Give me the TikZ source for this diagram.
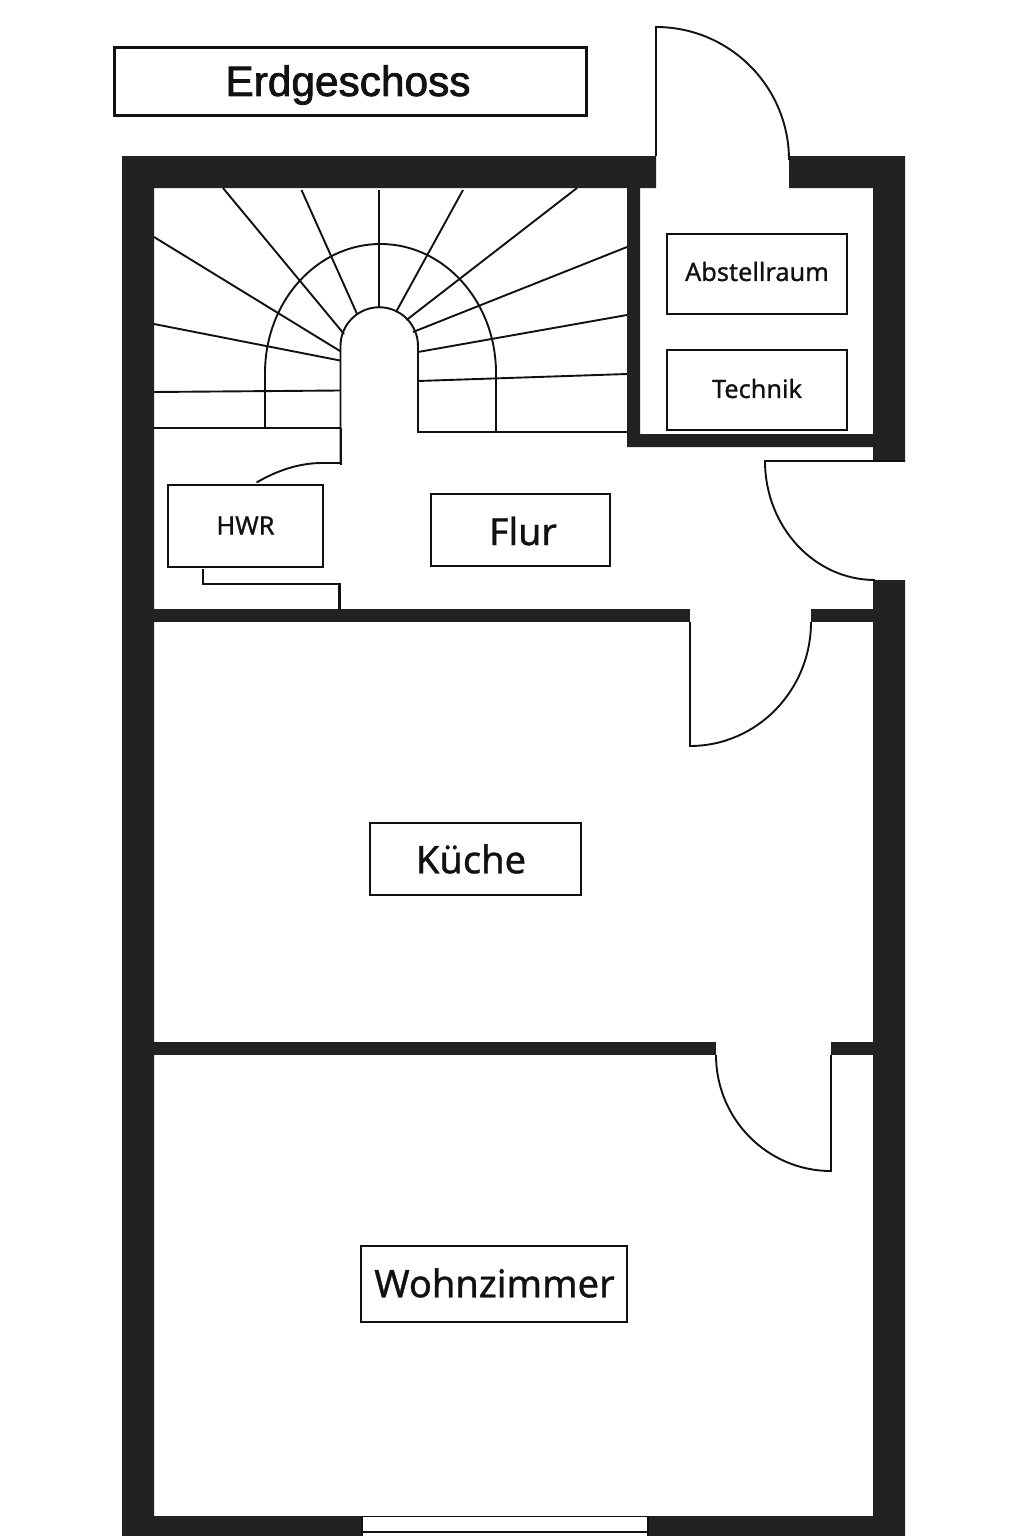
\documentclass[tikz,border=0pt]{standalone}
\usepackage{fontspec}
\setmainfont[RawFeature={embolden=0.9}]{Noto Sans}
\newfontfamily\titlefont[RawFeature={embolden=1.8}]{Liberation Sans}
\definecolor{wallcolor}{HTML}{222222}
\definecolor{inkcolor}{HTML}{111111}
\tikzset{
  wall/.style={fill=wallcolor,draw=none},
  thinline/.style={draw=inkcolor,line width=1.9pt},
  roombox/.style={draw=inkcolor,line width=2pt,inner sep=0pt},
  roomname/.style={text=inkcolor,inner sep=0pt,anchor=center}
}
\begin{document}
\begin{tikzpicture}[x=1pt,y=-1pt]
  \useasboundingbox (0,0) rectangle (1024,1536);
  % walls
  \fill[wall] (122,156) -- (656,156) -- (656,188) -- (154,188) -- (154,1516) -- (362,1516)
    -- (362,1536) -- (122,1536) -- cycle;
  \fill[wall] (648,1516) -- (873,1516) -- (873,580) -- (905,580) -- (905,1536) -- (648,1536) -- cycle;
  \fill[wall] (789,156) -- (905,156) -- (905,461) -- (873,461) -- (873,188) -- (789,188) -- cycle;
  \fill[wall] (627,188) -- (640,188) -- (640,434) -- (873,434) -- (873,447) -- (627,447) -- cycle;
  \fill[wall] (154,609) rectangle (690,622);
  \fill[wall] (811,609) rectangle (873,622);
  \fill[wall] (154,1042) rectangle (716,1055);
  \fill[wall] (831,1042) rectangle (873,1055);
  % window
  \draw[thinline] (362,1536) -- (362,1516.5) -- (648,1516.5) -- (648,1536);
  \draw[thinline] (362,1532) -- (648,1532);
  % doors
  \draw[thinline] (656,156) -- (656,27) arc[start angle=-90,end angle=0,radius=133] -- (789,156);
  \draw[thinline] (905,461) -- (765,461) arc[start angle=180,end angle=90,x radius=110,y radius=119];
  \draw[thinline] (690,622) -- (690,746) arc[start angle=90,end angle=0,x radius=121,y radius=124];
  \draw[thinline] (831,1055) -- (831,1171) arc[start angle=90,end angle=180,x radius=115,y radius=116];
  % stairs
  \draw[thinline] (340.5,464) -- (340.5,346) arc[start angle=180,end angle=360,radius=38.75] -- (418,432) -- (627,432);
  \draw[thinline] (265,428) -- (265,373) arc[start angle=180,end angle=360,x radius=115.5,y radius=129] -- (496,432);
  \draw[thinline] (154,428) -- (341,428);
  \foreach \ax/\ay/\bx/\by in {154/392/340/390.5,154/324/340/360.5,154/237/340/351,223/188/344/334,
    301.5/190/357.5/315,379/190/379/307,463/190/396/312,577/188/406.5/320,627/247/413/332,
    627/315/418/352,627/374/418/381}
    \draw[thinline] (\ax,\ay) -- (\bx,\by);
  % hwr
  \draw[thinline] (256.5,482.5) .. controls (278,470) and (300,463) .. (322,463) -- (341,463);
  \draw[draw=inkcolor,line width=2.6pt] (341,428) -- (341,464.5);
  \draw[thinline] (203,569) -- (203,584) -- (339.5,584);
  \draw[draw=inkcolor,line width=2.6pt] (339.5,583) -- (339.5,609);
  % rooms
  \node[roombox,line width=2.8pt,minimum width=472pt,minimum height=68pt] (erdgeschoss) at (350.5,81.5) {};
  \node[roomname,font=\titlefont\fontsize{42.4}{50}\selectfont] (erdgeschosstext) at (348,85) {\raisebox{-4pt}{Erdgeschoss}};
  \node[roombox,minimum width=180pt,minimum height=80pt] (abstellraum) at (757,274) {};
  \node[roomname,font=\fontsize{25.3}{30}\selectfont] (abstellraumtext) at (757,271.5) {Abstellraum};
  \node[roombox,minimum width=180pt,minimum height=80pt] (technik) at (757,390) {};
  \node[roomname,font=\fontsize{25.3}{30}\selectfont] (techniktext) at (757,388.5) {Technik};
  \node[roombox,minimum width=155.5pt,minimum height=82.5pt] (hwr) at (245.25,525.75) {};
  \node[roomname,font=\fontsize{25.3}{30}\selectfont] (hwrtext) at (245.5,525.5) {HWR};
  \node[roombox,minimum width=179pt,minimum height=72pt] (flur) at (520.5,530) {};
  \node[roomname,font=\fontsize{37.5}{44}\selectfont] (flurtext) at (523,531) {Flur};
  \node[roombox,minimum width=211pt,minimum height=72pt] (kueche) at (475.5,859) {};
  \node[roomname,font=\fontsize{38}{44}\selectfont] (kuechetext) at (471,859) {Küche};
  \node[roombox,minimum width=266pt,minimum height=76pt] (wohnzimmer) at (494,1284) {};
  \node[roomname,font=\fontsize{38}{44}\selectfont] (wohnzimmertext) at (494.5,1283) {Wohnzimmer};
\end{tikzpicture}
\end{document}
